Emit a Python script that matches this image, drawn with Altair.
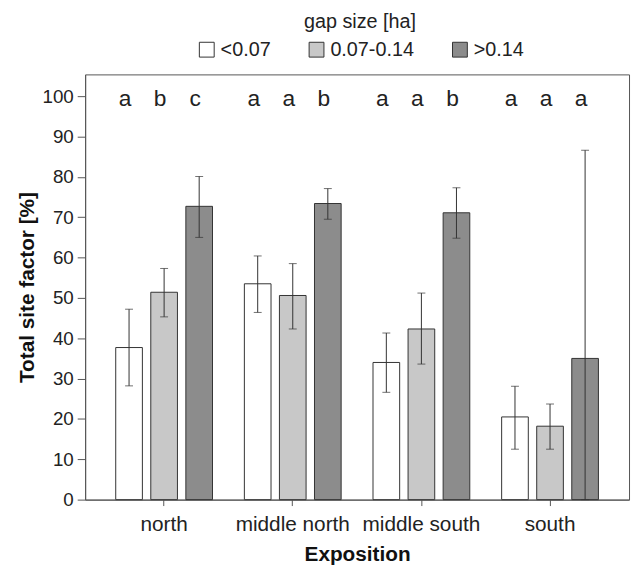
import altair as alt
import pandas as pd

expositions = ["north", "middle north", "middle south", "south"]
gap_sizes = ["<0.07", "0.07-0.14", ">0.14"]

mean_small = [37.7, 53.5, 34.0, 20.5]
mean_medium = [51.4, 50.6, 42.3, 18.2]
mean_large = [72.7, 73.4, 71.1, 35.0]

lo_small = [28.2, 46.4, 26.6, 12.5]
lo_medium = [45.3, 42.3, 33.6, 12.5]
lo_large = [65.0, 69.5, 64.8, 0.0]

hi_small = [47.2, 60.4, 41.3, 28.1]
hi_medium = [57.3, 58.5, 51.2, 23.7]
hi_large = [80.1, 77.1, 77.3, 86.6]

letters_small = ["a", "a", "a", "a"]
letters_medium = ["b", "a", "a", "a"]
letters_large = ["c", "b", "b", "a"]

bar_colors = ["#ffffff", "#c8c8c8", "#8c8c8c"]

rows = []
for gi, (g, means, los, his, lets) in enumerate(zip(
        gap_sizes,
        [mean_small, mean_medium, mean_large],
        [lo_small, lo_medium, lo_large],
        [hi_small, hi_medium, hi_large],
        [letters_small, letters_medium, letters_large])):
    for i, e in enumerate(expositions):
        rows.append({"exposition": e, "gap": g, "mean": means[i],
                     "lo": los[i], "hi": his[i], "letter": lets[i]})
df = pd.DataFrame(rows)

FONT = "Liberation Sans"

x_enc = alt.X("exposition:N", sort=expositions,
              scale=alt.Scale(paddingInner=0.2, paddingOuter=0.214),
              axis=alt.Axis(title="Exposition", labelAngle=0, labelFontSize=21,
                            labelColor="#222", tickSize=6, labelPadding=8,
                            titleFontSize=21, titleFontWeight="bold",
                            titleColor="#111", titlePadding=10,
                            domainColor="#555", tickColor="#555"))
xo_enc = alt.XOffset("gap:N", sort=gap_sizes,
                     scale=alt.Scale(paddingInner=0.24, paddingOuter=0.0875))

y_scale = alt.Scale(domain=[0, 105.4], nice=False, zero=True)

base = alt.Chart(df).encode(x=x_enc, xOffset=xo_enc)

bars = base.mark_bar(stroke="#333", strokeWidth=1, opacity=1).encode(
    y=alt.Y("mean:Q", scale=y_scale,
            axis=alt.Axis(title="Total site factor [%]",
                          values=list(range(0, 101, 10)), grid=False,
                          tickSize=8, labelFontSize=19, labelColor="#222",
                          labelPadding=4, titleFontSize=21,
                          titleFontWeight="bold", titleColor="#111",
                          titlePadding=5, domainColor="#555",
                          tickColor="#555")),
    color=alt.Color("gap:N", sort=gap_sizes,
                    scale=alt.Scale(domain=gap_sizes, range=bar_colors),
                    legend=alt.Legend(orient="none", legendX=113, legendY=-63,
                                      direction="horizontal",
                                      title="gap size [ha]",
                                      titleAnchor="middle", titleFontSize=20,
                                      titleFontWeight="normal",
                                      titleColor="#222", labelFontSize=20,
                                      labelColor="#222", symbolType="square",
                                      symbolSize=225, symbolStrokeColor="#333",
                                      symbolStrokeWidth=1, symbolOpacity=1,
                                      columnPadding=36, labelOffset=4,
                                      titlePadding=8, padding=0)),
)

err = base.mark_rule(color="#333", strokeWidth=1).encode(
    y=alt.Y("lo:Q", scale=y_scale), y2="hi:Q")
cap_hi = base.mark_tick(color="#333", thickness=1, size=8).encode(
    y=alt.Y("hi:Q", scale=y_scale))
cap_lo = base.mark_tick(color="#333", thickness=1, size=8).encode(
    y=alt.Y("lo:Q", scale=y_scale))

letters = base.mark_text(fontSize=23, dx=-4, baseline="alphabetic",
                         color="#222").encode(
    y=alt.datum(97.5, scale=y_scale), text="letter:N")

chart = alt.layer(bars, err, cap_hi, cap_lo, letters).properties(
    width=550, height=430,
    autosize=alt.AutoSizeParams(type="none"),
    padding={"left": 78, "top": 64, "right": 2, "bottom": 67},
).configure(font=FONT).configure_view(stroke="#555", strokeWidth=1)

chart.save("out.html", embed_options={"renderer": "svg", "actions": False})
